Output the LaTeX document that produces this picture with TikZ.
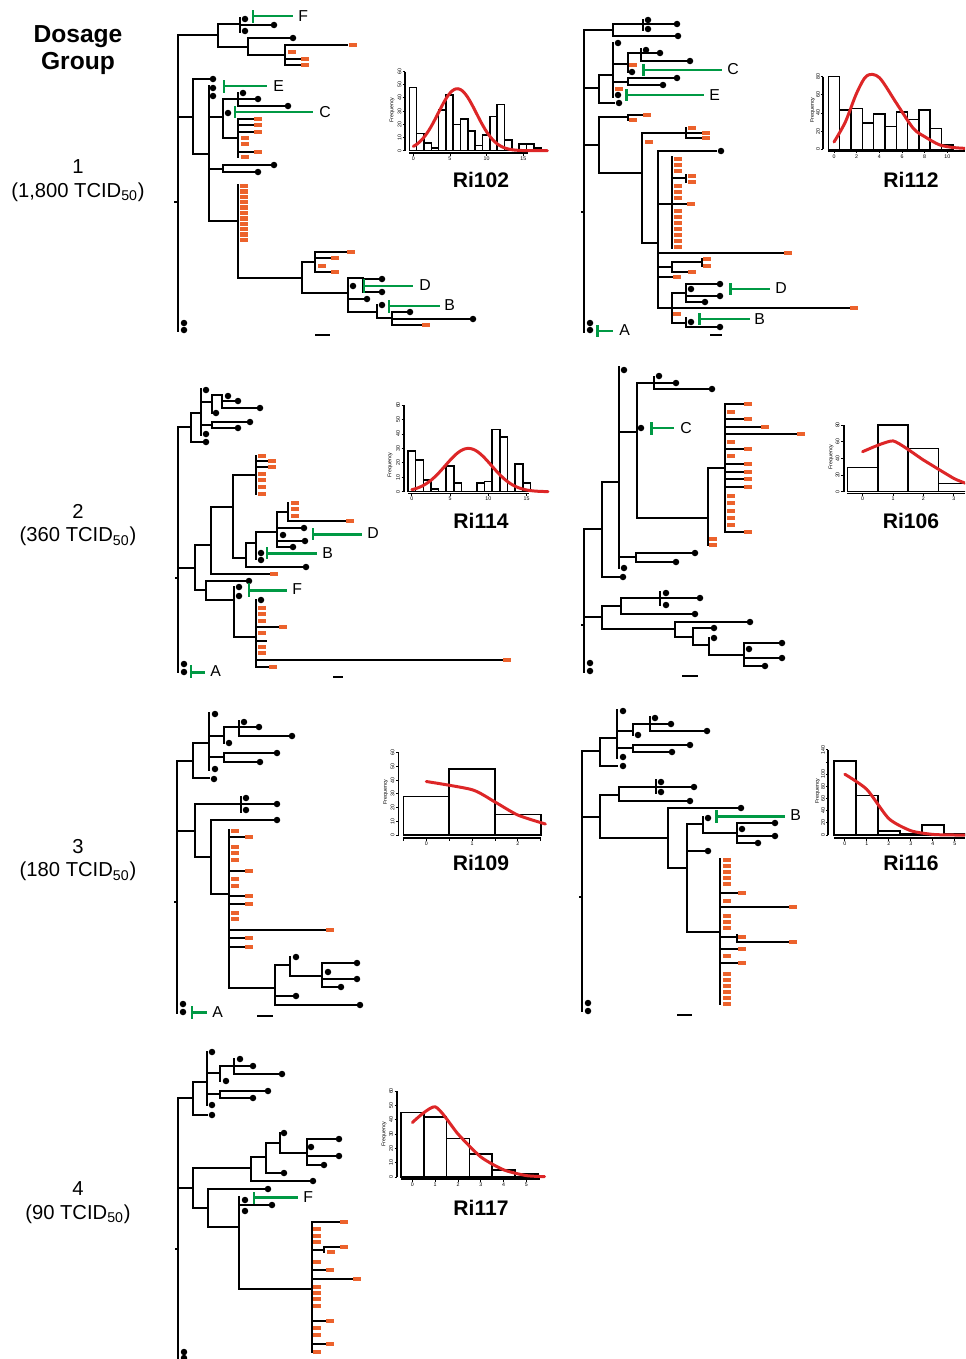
\documentclass[tikz,border=0pt]{standalone}
\usepackage{fontspec}
\setmainfont{Liberation Sans}
\definecolor{tipred}{RGB}{236,98,44}
\definecolor{clonegreen}{RGB}{0,153,68}
\definecolor{fitred}{RGB}{221,38,39}
\tikzset{
  branch/.style={line width=0.7pt, line cap=rect, black},
  tipdot/.style={circle, fill=black, inner sep=0pt, minimum size=3.7pt},
  tipbox/.style={rectangle, fill=tipred, inner sep=0pt, minimum width=4.1pt, minimum height=2.4pt},
  clonebar/.style={line width=1.7pt, clonegreen},
  clonetag/.style={anchor=west, inner sep=0pt, font=\fontsize{9}{9}\selectfont},
  histbar/.style={line width=0.9pt, black},
  histaxis/.style={line width=1.1pt, black},
  histtick/.style={line width=0.5pt, black},
  fitcurve/.style={line width=1.7pt, fitred, line join=round, line cap=round},
  yticklab/.style={rotate=90, inner sep=0pt, font=\fontsize{3}{3}\selectfont},
  xticklab/.style={inner sep=0pt, font=\fontsize{3}{3}\selectfont},
  histtitle/.style={inner sep=0pt, font=\bfseries\fontsize{12}{12}\selectfont},
  doselabel/.style={align=center, inner sep=0pt, font=\fontsize{11.5}{13.6}\selectfont},
  dosehead/.style={align=center, inner sep=0pt, font=\bfseries\fontsize{14}{15.3}\selectfont},
  scalebar/.style={line width=0.9pt, black}
}
\begin{document}
\begin{tikzpicture}[x=0.02cm, y=-0.02cm]
\useasboundingbox (0,0) rectangle (965,1359);
\clip (0,0) rectangle (965,1359);

% dosage groups
\node[dosehead] (head) at (78,50) {Dosage\\Group};
\node[doselabel] (dose1) at (78,181) {1\\(1,800 TCID\textsubscript{50})};
\node[doselabel] (dose2) at (78,525) {2\\(360 TCID\textsubscript{50})};
\node[doselabel] (dose3) at (78,860) {3\\(180 TCID\textsubscript{50})};
\node[doselabel] (dose4) at (78,1203) {4\\(90 TCID\textsubscript{50})};

% ---------------- Ri102 tree
\draw[branch]
  (178,35) -- (178,331) (175,202) -- (178,202)
  (178,35) -- (218,35) (218,24) -- (218,47)
  (218,24) -- (240,24) (240,18) -- (240,32) (240,25) -- (270,25)
  (218,47) -- (248,47) (248,38) -- (248,55) (248,38) -- (289,38)
  (248,55) -- (285,55) (285,45) -- (285,65) (285,45) -- (347,45)
  (285,59) -- (300,59) (285,65) -- (300,65)
  (178,117) -- (193,117) (193,79) -- (193,154) (193,79) -- (209,79)
  (193,154) -- (209,154) (209,86) -- (209,221)
  (209,117) -- (223,117) (223,99) -- (223,138)
  (223,99) -- (238,99) (238,93) -- (238,106) (238,99) -- (254,99) (238,106) -- (284,106)
  (223,138) -- (238,138) (238,119) -- (238,157)
  (238,119) -- (253,119) (238,125) -- (253,125) (238,132) -- (253,132) (238,152) -- (253,152)
  (209,169) -- (223,169) (223,165) -- (223,172) (223,165) -- (270,165) (223,172) -- (254,172)
  (209,221) -- (238,221) (238,185) -- (238,278)
  (238,278) -- (302,278) (302,262) -- (302,293)
  (302,262) -- (315,262) (315,252) -- (315,272) (315,252) -- (346,252) (315,258) -- (330,258) (315,272) -- (330,272)
  (302,293) -- (348,293) (348,278) -- (348,312)
  (348,278) -- (363,278) (363,278) -- (363,292) (363,279) -- (378,279) (363,292) -- (378,292)
  (348,299) -- (363,299)
  (348,312) -- (377,312) (377,305) -- (377,318)
  (377,318) -- (392,318) (392,312) -- (392,325) (392,312) -- (406,312) (392,319) -- (469,319) (392,325) -- (421,325);
\foreach \p [count=\k] in {(245,19),(245,31),(274,25),(293,38),(213,79),(213,88),(213,96),(243,93),(258,99),(288,106),(228,113),(274,165),(258,172),(382,279),(382,292),(353,286),(367,299),(382,305),(410,312),(473,319),(184,323),(184,330)}
  \node[tipdot] (ri102d\k) at \p {};
\foreach \p [count=\k] in {(353,45),(292,52),(305,59),(305,65),(258,119),(258,125),(258,132),(245,138),(245,144),(258,152),(245,157),(244,186),(244,191.4),(244,196.8),(244,202.2),(244,207.6),(244,213),(244,218.4),(244,223.8),(244,229.2),(244,234.6),(244,240),(351,252),(335,258),(322,266),(335,272),(426,325)}
  \node[tipbox] (ri102b\k) at \p {};
\draw[clonebar] (253,10) -- (253,23) (253,16) -- (293,16);
\node[clonetag] (ri102F) at (298,16) {F};
\draw[clonebar] (224,80) -- (224,93) (224,86) -- (267,86);
\node[clonetag] (ri102E) at (273,86) {E};
\draw[clonebar] (235,106) -- (235,118) (235,112) -- (313,112);
\node[clonetag] (ri102C) at (319,112) {C};
\draw[clonebar] (364,279) -- (364,293) (364,286) -- (413,286);
\node[clonetag] (ri102D) at (419,285) {D};
\draw[clonebar] (389,300) -- (389,313) (389,306) -- (440,306);
\node[clonetag] (ri102B) at (444,305) {B};
\draw[scalebar] (315,335) -- (330,335);

% ---------------- Ri102 histogram
\foreach \h [count=\k from 0] in {48,13,6,2,31,42,20,24,15,4,12,26,35,8,0,5,5,2}
  \draw[histbar] ({409.3+7.33*\k},150.7) rectangle ++(7.33,{-1.32*\h});
\draw[histaxis] (405,71.7) -- (405,150.7) (409,153.3) -- (528,153.3);
\foreach \v in {0,10,...,60} {
  \draw[histtick] (402.5,{150.7-1.32*\v}) -- (405,{150.7-1.32*\v});
  \node[yticklab] at (399.5,{150.7-1.32*\v}) {\v};
}
\foreach \t in {0,5,10,15} {
  \draw[histtick] ({413.3+7.33*\t},153.3) -- ++(0,2.5);
  \node[xticklab] at ({413.3+7.33*\t},159) {\t};
}
\node[yticklab] (ri102freq) at (392,110) {Frequency};
\draw[fitcurve] plot[domain=0:18.3, samples=70, smooth] ({413.3+7.33*\x},{150.7-62*exp(-(\x-6)*(\x-6)/13.5)});
\node[histtitle] (ri102) at (481,180) {Ri102};

% ---------------- Ri112 tree
\draw[branch]
  (584,30) -- (584,332) (582,212) -- (584,212)
  (584,30) -- (613,30) (613,24) -- (613,36)
  (613,24) -- (673,24) (643,20) -- (643,30) (613,36) -- (674,36)
  (584,88) -- (599,88) (599,75) -- (599,103)
  (599,75) -- (613,75) (613,43) -- (613,97)
  (613,64) -- (628,64) (628,53) -- (628,72) (628,53) -- (641,53) (641,49) -- (641,61)
  (641,53) -- (656,53) (641,61) -- (686,61)
  (613,82) -- (628,82) (628,78) -- (628,85) (628,78) -- (673,78) (628,85) -- (659,85)
  (599,103) -- (614,103)
  (584,145) -- (599,145) (599,117) -- (599,173)
  (599,117) -- (628,117) (628,115) -- (628,120) (628,115) -- (643,115)
  (599,173) -- (642,173) (642,133) -- (642,243)
  (642,133) -- (686,133) (686,128) -- (686,138) (686,133) -- (701,133) (686,138) -- (701,138)
  (642,243) -- (658,243) (658,151) -- (658,308)
  (658,151) -- (716,151)
  (658,204) -- (686,204) (672,157) -- (672,248)
  (672,178) -- (686,178) (686,175) -- (686,182)
  (658,253) -- (783,253)
  (658,267) -- (672,267) (672,262) -- (672,272) (672,262) -- (702,262) (702,259) -- (702,266) (672,272) -- (688,272)
  (658,277) -- (673,277)
  (658,308) -- (850,308) (672,293) -- (672,323)
  (672,293) -- (686,293) (686,284) -- (686,302) (686,284) -- (716,284) (686,296) -- (716,296) (686,302) -- (701,302)
  (672,323) -- (686,323) (686,318) -- (686,327) (686,327) -- (716,327);
\foreach \p [count=\k] in {(648,20),(648,29),(677,24),(678,36),(618,43),(646,50),(660,53),(690,61),(632,72),(677,78),(663,85),(618,95),(619,103),(721,151),(720,284),(691,289),(720,296),(705,302),(691,322),(720,327),(590,323),(590,330)}
  \node[tipdot] (ri112d\k) at \p {};
\foreach \p [count=\k] in {(633,65),(619,89),(647,115),(633,120),(692,128),(706,133),(706,138),(649,142),(678,159),(678,165),(678,171),(678,186),(678,192),(678,198),(678,211),(678,217),(678,223),(678,229),(678,235),(678,241),(678,247),(692,176),(692,182),(691,204),(788,253),(707,259),(707,266),(692,272),(677,277),(854,308),(677,314)}
  \node[tipbox] (ri112b\k) at \p {};
\draw[clonebar] (643,64) -- (643,76) (643,70) -- (722,70);
\node[clonetag] (ri112C) at (727,69) {C};
\draw[clonebar] (626,89) -- (626,101) (626,95) -- (704,95);
\node[clonetag] (ri112E) at (709,95) {E};
\draw[clonebar] (730,283) -- (730,295) (730,289) -- (770,289);
\node[clonetag] (ri112D) at (775,288) {D};
\draw[clonebar] (699,313) -- (699,325) (699,319) -- (750,319);
\node[clonetag] (ri112B) at (754,319) {B};
\draw[clonebar] (597,325) -- (597,337) (597,331) -- (613,331);
\node[clonetag] (ri112A) at (619,330) {A};
\draw[scalebar] (710,335) -- (722,335);

% ---------------- Ri112 histogram
\foreach \h [count=\k from 0] in {80,43,45,29,39,25,41,33,43,23,5}
  \draw[histbar] ({828.3+11.33*\k},149.3) rectangle ++(11.33,{-0.908*\h});
\draw[histaxis] (823.3,76.7) -- (823.3,149.3) (828.3,150.9) -- (965,150.9);
\foreach \v in {0,20,...,80} {
  \draw[histtick] (820.8,{149.3-0.908*\v}) -- (823.3,{149.3-0.908*\v});
  \node[yticklab] at (818,{149.3-0.908*\v}) {\v};
}
\foreach \t in {0,2,...,10} {
  \draw[histtick] ({834+11.33*\t},150.9) -- ++(0,2.5);
  \node[xticklab] at ({834+11.33*\t},157) {\t};
}
\node[yticklab] (ri112freq) at (812.5,110) {Frequency};
\draw[fitcurve] plot[smooth, tension=0.5] coordinates {(834,142.0) (845.3,122.1) (856.7,93.0) (866.9,75.7) (879.3,77.6) (896.3,103.0) (913.3,128.4) (924.6,136.6) (939.4,144.8) (953,147.5) (966,148.4)};
\node[histtitle] (ri112) at (911,180) {Ri112};

% ---------------- Ri114 tree
\draw[branch]
  (178,427) -- (178,672) (176,578) -- (178,578)
  (178,427) -- (191,427) (191,413) -- (191,442)
  (191,413) -- (201,413) (201,389) -- (201,435)
  (201,402) -- (212,402) (212,395) -- (212,413) (212,395) -- (222,395) (222,395) -- (222,408)
  (222,401) -- (234,401) (222,408) -- (256,408)
  (201,425) -- (212,425) (212,422) -- (212,428) (212,422) -- (246,422) (212,428) -- (234,428)
  (191,442) -- (202,442)
  (178,568) -- (195,568) (195,545) -- (195,590)
  (195,545) -- (211,545) (211,507) -- (211,574)
  (211,507) -- (233,507) (233,475) -- (233,558)
  (233,475) -- (256,475) (256,456) -- (256,494) (256,461) -- (268,461) (256,467) -- (268,467)
  (233,558) -- (246,558) (246,543) -- (246,567)
  (246,543) -- (256,543) (256,532) -- (256,559)
  (256,532) -- (277,532) (277,512) -- (277,547)
  (277,512) -- (288,512) (288,503) -- (288,521) (288,521) -- (345,521)
  (277,528) -- (300,528) (277,541) -- (301,541) (277,547) -- (289,547)
  (246,567) -- (302,567)
  (211,574) -- (269,574)
  (195,590) -- (206,590) (206,581) -- (206,600)
  (206,581) -- (245,581)
  (206,600) -- (234,600) (234,587) -- (234,637)
  (234,637) -- (256,637) (256,600) -- (256,667)
  (256,627) -- (278,627) (256,641) -- (266,641) (256,660) -- (502,660) (256,667) -- (268,667);
\foreach \p [count=\k] in {(206,390),(228,396),(238,401),(260,408),(216,413),(250,422),(238,428),(206,434),(206,442),(304,528),(283,535),(305,541),(293,547),(261,553),(261,560),(306,567),(249,581),(239,587),(239,596),(261,600),(184,664),(184,672)}
  \node[tipdot] (ri114d\k) at \p {};
\foreach \p [count=\k] in {(262,456),(272,461),(272,467),(262,474),(262,480),(262,487),(262,494),(295,503),(295,509),(295,516),(350,521),(274,574),(262,608),(262,614),(262,621),(283,627),(262,633),(262,647),(262,653),(507,660),(273,667)}
  \node[tipbox] (ri114b\k) at \p {};
\draw[clonebar] (313,528) -- (313,540) (313,534) -- (362,534);
\node[clonetag] (ri114D) at (367,533) {D};
\draw[clonebar] (267,547) -- (267,559) (267,553) -- (317,553);
\node[clonetag] (ri114B) at (322,553) {B};
\draw[clonebar] (249,583) -- (249,597) (249,590) -- (287,590);
\node[clonetag] (ri114F) at (292,589) {F};
\draw[clonebar] (191,665) -- (191,678) (191,672) -- (205,672);
\node[clonetag] (ri114A) at (210,671) {A};
\draw[scalebar] (333,677) -- (343,677);

% ---------------- Ri114 histogram
\foreach \h [count=\k from 0] in {28,22,8,2,0,18,6,0,0,6,7,43,38,0,19,6}
  \draw[histbar] ({408+7.65*\k},491.7) rectangle ++(7.65,{-1.444*\h});
\draw[histaxis] (404.2,405) -- (404.2,491.7) (408,493.5) -- (529.4,493.5);
\foreach \v in {0,10,...,60} {
  \draw[histtick] (401.7,{491.7-1.444*\v}) -- (404.2,{491.7-1.444*\v});
  \node[yticklab] at (398,{491.7-1.444*\v}) {\v};
}
\foreach \t in {0,5,10,15} {
  \draw[histtick] ({411.8+7.65*\t},493.5) -- ++(0,2.5);
  \node[xticklab] at ({411.8+7.65*\t},499) {\t};
}
\node[yticklab] (ri114freq) at (390,465) {Frequency};
\draw[fitcurve] plot[domain=0:17.8, samples=70, smooth] ({411.8+7.65*\x},{491.7-43.3*exp(-(\x-7.4)*(\x-7.4)/18)});
\node[histtitle] (ri114) at (481,521) {Ri114};

% ---------------- Ri106 tree
\draw[branch]
  (584,529) -- (584,672) (582,625) -- (584,625)
  (584,529) -- (602,529) (602,482) -- (602,577)
  (602,482) -- (619,482) (619,367) -- (619,568)
  (619,432) -- (637,432) (637,383) -- (637,518)
  (637,383) -- (654,383) (654,377) -- (654,389) (654,383) -- (672,383) (654,389) -- (708,389)
  (637,518) -- (708,518) (708,468) -- (708,545)
  (708,468) -- (725,468) (725,404) -- (725,532)
  (725,404) -- (743,404) (725,419) -- (743,419) (725,427) -- (760,427) (725,434) -- (796,434)
  (725,449) -- (743,449) (725,464) -- (743,464) (725,472) -- (743,472) (725,479) -- (743,479)
  (725,487) -- (743,487) (725,532) -- (743,532)
  (619,557) -- (636,557) (636,553) -- (636,562) (636,553) -- (691,553) (636,562) -- (672,562)
  (602,577) -- (619,577)
  (584,617) -- (602,617) (602,606) -- (602,629)
  (602,606) -- (621,606) (621,598) -- (621,614) (621,598) -- (696,598) (660,592) -- (660,605) (621,614) -- (691,614)
  (602,629) -- (675,629) (675,622) -- (675,637)
  (675,622) -- (746,622)
  (675,637) -- (693,637) (693,628) -- (693,645)
  (693,628) -- (710,628)
  (693,645) -- (709,645) (709,638) -- (709,655)
  (709,655) -- (744,655) (744,643) -- (744,666)
  (744,643) -- (778,643) (744,658) -- (778,658) (744,666) -- (761,666);
\foreach \p [count=\k] in {(624,370),(659,376),(676,383),(712,389),(641,428),(695,553),(676,562),(624,568),(623,577),(666,593),(666,605),(700,598),(695,614),(750,622),(714,628),(714,638),(749,649),(782,643),(782,658),(765,666),(590,663),(590,671)}
  \node[tipdot] (ri106d\k) at \p {};
\foreach \p [count=\k] in {(748,404),(731,412),(748,419),(765,427),(801,434),(731,442),(748,449),(731,456),(748,464),(748,472),(748,479),(748,487),(731,496),(731,503),(731,511),(731,518),(731,525),(748,532),(713,539),(713,545)}
  \node[tipbox] (ri106b\k) at \p {};
\draw[clonebar] (651,422) -- (651,435) (651,428) -- (674,428);
\node[clonetag] (ri106C) at (680,428) {C};
\draw[scalebar] (682,676) -- (698,676);

% ---------------- Ri106 histogram
\foreach \h [count=\k from 0] in {29,80,52,10}
  \draw[histbar] ({847.4+30.4*\k},491.7) rectangle ++(30.4,{-0.8333*\h});
\draw[histaxis] (843.6,425) -- (843.6,491.7) (847.4,493.5) -- (965,493.5);
\foreach \v in {0,20,...,80} {
  \draw[histtick] (841.1,{491.7-0.8333*\v}) -- (843.6,{491.7-0.8333*\v});
  \node[yticklab] at (837.5,{491.7-0.8333*\v}) {\v};
}
\foreach \t in {0,1,2,3} {
  \draw[histtick] ({862.6+30.4*\t},493.5) -- ++(0,2.5);
  \node[xticklab] at ({862.6+30.4*\t},499) {\t};
}
\node[yticklab] (ri106freq) at (831,457) {Frequency};
\draw[fitcurve] plot[smooth, tension=0.3] coordinates {(862.6,451.7) (893,440.9) (923.4,460.0) (953.8,478.4) (966,483.4)};
\node[histtitle] (ri106) at (911,521) {Ri106};

% ---------------- Ri109 tree
\draw[branch]
  (177,761) -- (177,1013) (175,902) -- (177,902)
  (177,761) -- (193,761) (193,743) -- (193,778)
  (193,743) -- (209,743) (209,713) -- (209,770)
  (209,736) -- (224,736) (224,727) -- (224,743)
  (224,727) -- (239,727) (239,721) -- (239,736) (239,727) -- (255,727) (239,736) -- (288,736)
  (209,757) -- (224,757) (224,753) -- (224,762) (224,753) -- (273,753) (224,762) -- (256,762)
  (193,778) -- (209,778)
  (177,831) -- (195,831) (195,804) -- (195,857)
  (195,804) -- (273,804) (241,797) -- (241,812)
  (195,857) -- (211,857) (211,820) -- (211,894)
  (211,820) -- (273,820)
  (211,894) -- (229,894) (229,830) -- (229,988)
  (229,837) -- (244,837) (229,871) -- (244,871) (229,896) -- (244,896) (229,904) -- (244,904)
  (229,930) -- (325,930) (229,938) -- (244,938) (229,947) -- (244,947)
  (229,988) -- (275,988) (275,965) -- (275,1005)
  (275,965) -- (290,965) (290,957) -- (290,976)
  (290,976) -- (322,976) (322,963) -- (322,987) (322,963) -- (353,963) (322,979) -- (353,979) (322,987) -- (337,987)
  (275,996) -- (292,996) (275,1005) -- (356,1005);
\foreach \p [count=\k] in {(215,714),(244,722),(259,727),(292,736),(229,743),(277,753),(260,762),(215,769),(214,779),(246,798),(246,810),(277,804),(277,820),(296,957),(357,963),(328,972),(357,979),(341,987),(296,996),(360,1005),(183,1004),(183,1012)}
  \node[tipdot] (ri109d\k) at \p {};
\foreach \p [count=\k] in {(235,831),(249,837),(235,847),(235,853),(235,860),(249,871),(235,879),(235,886),(249,896),(249,904),(235,913),(235,919),(330,930),(249,938),(249,947)}
  \node[tipbox] (ri109b\k) at \p {};
\draw[clonebar] (192,1006) -- (192,1019) (192,1012) -- (207,1012);
\node[clonetag] (ri109A) at (212,1012) {A};
\draw[scalebar] (257,1016) -- (273,1016);

% ---------------- Ri109 histogram
\foreach \h [count=\k from 0] in {28,48,15}
  \draw[histbar] ({403.4+45.8*\k},835) rectangle ++(45.8,{-1.373*\h});
\draw[histaxis] (398.5,752.7) -- (398.5,835) (403.4,838.3) -- (540.8,838.3);
\foreach \v in {0,10,...,60} {
  \draw[histtick] (396,{835-1.373*\v}) -- (398.5,{835-1.373*\v});
  \node[yticklab] at (392.5,{835-1.373*\v}) {\v};
}
\foreach \i in {0,...,6}
  \draw[histtick] ({403.4+22.9*\i},838.3) -- ++(0,2.5);
\foreach \t in {0,1,2}
  \node[xticklab] at ({426.3+45.8*\t},843.5) {\t};
\node[yticklab] (ri109freq) at (385.5,792) {Frequency};
\draw[fitcurve] plot[smooth, tension=0.4] coordinates {(426.3,781.5) (472.1,789.7) (495,802) (517.9,815.1) (545.4,824)};
\node[histtitle] (ri109) at (481,863) {Ri109};

% ---------------- Ri116 tree
\draw[branch]
  (582,751) -- (582,1011) (580,897) -- (582,897)
  (582,751) -- (600,751) (600,738) -- (600,766)
  (600,738) -- (617,738) (617,710) -- (617,758)
  (617,731) -- (633,731) (633,724) -- (633,735)
  (633,724) -- (650,724) (650,717) -- (650,731) (650,724) -- (667,724) (650,731) -- (703,731)
  (617,748) -- (633,748) (633,745) -- (633,752) (633,745) -- (686,745) (633,752) -- (668,752)
  (600,766) -- (617,766)
  (582,817) -- (600,817) (600,795) -- (600,838)
  (600,795) -- (619,795) (619,787) -- (619,801) (619,787) -- (690,787) (656,780) -- (656,793) (619,801) -- (686,801)
  (600,838) -- (668,838) (668,808) -- (668,868)
  (668,808) -- (737,808)
  (668,868) -- (687,868) (687,824) -- (687,932)
  (687,824) -- (703,824) (703,817) -- (703,833)
  (703,833) -- (737,833) (737,823) -- (737,843) (737,823) -- (771,823) (737,836) -- (771,836) (737,843) -- (754,843)
  (687,851) -- (704,851)
  (687,932) -- (720,932) (720,859) -- (720,1004)
  (720,893) -- (737,893) (720,907) -- (788,907) (720,937) -- (737,937) (737,935) -- (737,942) (737,942) -- (788,942)
  (720,949) -- (737,949) (720,963) -- (737,963);
\foreach \p [count=\k] in {(623,711),(655,718),(671,724),(707,731),(638,735),(690,745),(672,752),(623,757),(623,766),(661,782),(661,792),(694,787),(690,801),(741,808),(708,818),(775,823),(742,829),(775,836),(758,843),(708,851),(588,1003),(588,1011)}
  \node[tipdot] (ri116d\k) at \p {};
\foreach \p [count=\k] in {(727,860),(727,866),(727,872),(727,878),(727,884),(742,893),(727,901),(793,907),(727,916),(727,922),(727,928),(742,937),(793,942),(742,949),(727,956),(742,963),(727,974),(727,980),(727,986),(727,992),(727,998),(727,1004)}
  \node[tipbox] (ri116b\k) at \p {};
\draw[clonebar] (716,810) -- (716,823) (716,816) -- (785,816);
\node[clonetag] (ri116B) at (790,815) {B};
\draw[scalebar] (677,1015) -- (692,1015);

% ---------------- Ri116 histogram
\foreach \h [count=\k from 0] in {122,65,7,2,16,2}
  \draw[histbar] ({833.8+22*\k},835) rectangle ++(22,{-0.6083*\h});
\draw[histaxis] (828.4,749.8) -- (828.4,835) (833.8,838.3) -- (965,838.3);
\foreach \v in {0,20,...,140}
  \draw[histtick] (825.9,{835-0.6083*\v}) -- (828.4,{835-0.6083*\v});
\foreach \v in {0,20,40,60,80,100,140}
  \node[yticklab] at (823,{835-0.6083*\v}) {\v};
\foreach \t in {0,...,5} {
  \draw[histtick] ({844.8+22*\t},838.3) -- ++(0,2.5);
  \node[xticklab] at ({844.8+22*\t},843.5) {\t};
}
\node[yticklab] (ri116freq) at (817.5,791) {Frequency};
\draw[fitcurve] plot[smooth, tension=0.4] coordinates {(844.8,774.2) (866.8,789.4) (888.8,818.6) (910.8,830.7) (932.8,834.4) (954.8,835) (968,835)};
\node[histtitle] (ri116) at (911,863) {Ri116};

% ---------------- Ri117 tree
\draw[branch]
  (178,1098) -- (178,1359) (176,1249) -- (178,1249)
  (178,1098) -- (193,1098) (193,1082) -- (193,1115)
  (193,1082) -- (207,1082) (207,1052) -- (207,1105)
  (207,1073) -- (220,1073) (220,1066) -- (220,1081)
  (220,1066) -- (234,1066) (234,1059) -- (234,1074) (234,1066) -- (249,1066) (234,1074) -- (278,1074)
  (207,1094) -- (220,1094) (220,1091) -- (220,1098) (220,1091) -- (264,1091) (220,1098) -- (249,1098)
  (193,1115) -- (207,1115)
  (178,1188) -- (193,1188) (193,1168) -- (193,1208)
  (193,1168) -- (251,1168) (251,1157) -- (251,1181)
  (251,1157) -- (266,1157) (266,1143) -- (266,1173)
  (266,1143) -- (280,1143) (280,1133) -- (280,1153)
  (280,1153) -- (307,1153) (307,1139) -- (307,1165) (307,1139) -- (335,1139) (307,1156) -- (335,1156) (307,1165) -- (320,1165)
  (266,1173) -- (280,1173)
  (251,1181) -- (309,1181)
  (193,1208) -- (208,1208) (208,1189) -- (208,1227)
  (208,1189) -- (264,1189)
  (208,1227) -- (239,1227) (239,1197) -- (239,1289) (239,1205) -- (268,1205)
  (239,1289) -- (312,1289) (312,1222) -- (312,1352)
  (312,1222) -- (339,1222) (312,1250) -- (324,1250) (324,1247) -- (324,1252) (324,1247) -- (339,1247)
  (312,1270) -- (326,1270) (312,1279) -- (352,1279) (312,1321) -- (326,1321) (312,1344) -- (326,1344);
\foreach \p [count=\k] in {(212,1052),(240,1059),(253,1066),(282,1074),(226,1081),(268,1091),(253,1098),(212,1105),(212,1115),(284,1133),(339,1139),(311,1147),(339,1156),(324,1165),(284,1173),(313,1181),(268,1189),(245,1200),(245,1211),(272,1205),(184,1352),(184,1358)}
  \node[tipdot] (ri117d\k) at \p {};
\foreach \p [count=\k] in {(344,1222),(317,1229),(317,1236),(317,1242),(344,1247),(331,1252),(317,1262),(330,1270),(357,1279),(317,1287),(317,1293),(317,1299),(317,1306),(330,1321),(317,1328),(317,1335),(330,1344),(317,1352)}
  \node[tipbox] (ri117b\k) at \p {};
\draw[clonebar] (254,1192) -- (254,1204) (254,1197) -- (298,1197);
\node[clonetag] (ri117F) at (303,1197) {F};

% ---------------- Ri117 histogram
\foreach \h [count=\k from 0] in {45,42,27,16,5,2}
  \draw[histbar] ({401+22.8*\k},1177) rectangle ++(22.8,{-1.433*\h});
\draw[histaxis] (397,1091) -- (397,1177) (401,1179.3) -- (540,1179.3);
\foreach \v in {0,10,...,60} {
  \draw[histtick] (394.5,{1177-1.433*\v}) -- (397,{1177-1.433*\v});
  \node[yticklab] at (391,{1177-1.433*\v}) {\v};
}
\foreach \t in {0,...,5} {
  \draw[histtick] ({412.4+22.8*\t},1179.3) -- ++(0,2.5);
  \node[xticklab] at ({412.4+22.8*\t},1184.5) {\t};
}
\node[yticklab] (ri117freq) at (384,1134) {Frequency};
\draw[fitcurve] plot[smooth, tension=0.4] coordinates {(412.4,1122.5) (435.2,1106.8) (458,1134) (480.8,1156.9) (503.6,1169.8) (526.4,1175.6) (544.6,1176.6)};
\node[histtitle] (ri117) at (481,1208) {Ri117};
\end{tikzpicture}
\end{document}
